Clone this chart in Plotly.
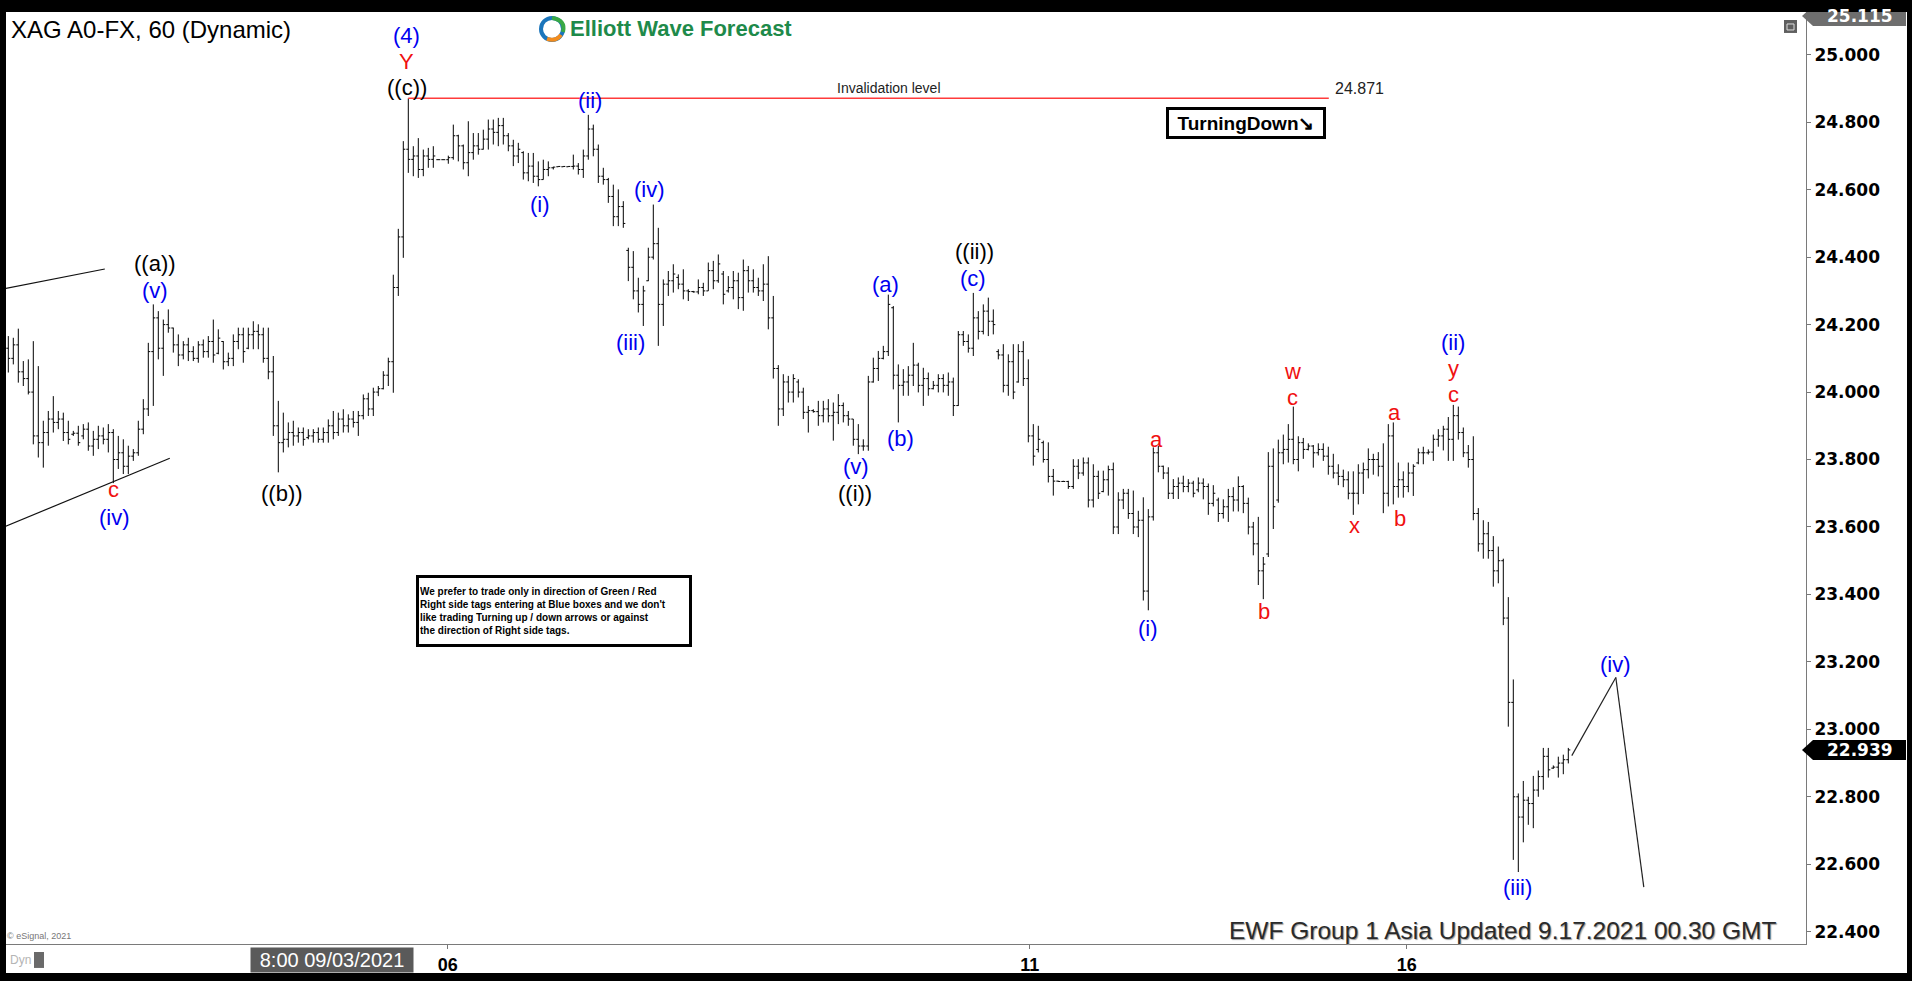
import plotly.graph_objects as go

# ---------------- data (hourly OHLC bars) ----------------
opens = [
    24.13, 24.10, 24.14, 24.06, 24.04, 24.00, 23.87, 23.85, 23.88, 23.92,
    23.91, 23.92, 23.88, 23.875, 23.878, 23.87, 23.89, 23.84, 23.86, 23.87,
    23.86, 23.88, 23.80, 23.82, 23.78, 23.81, 23.82, 23.89, 23.95, 24.12,
    24.22, 24.13, 24.20, 24.19, 24.14, 24.11, 24.14, 24.12, 24.10, 24.14,
    24.12, 24.15, 24.115, 24.15, 24.09, 24.10, 24.15, 24.17, 24.13, 24.17,
    24.18, 24.17, 24.10, 24.06, 23.90, 23.85, 23.86, 23.88, 23.87, 23.88,
    23.865, 23.87, 23.88, 23.86, 23.88, 23.90, 23.88, 23.92, 23.90, 23.92,
    23.91, 23.93, 23.98, 23.95, 24.00, 24.01, 24.05, 24.09, 24.31, 24.46,
    24.72, 24.69, 24.70, 24.66, 24.70, 24.69, 24.689, 24.689, 24.689, 24.695,
    24.76, 24.73, 24.68, 24.71, 24.73, 24.72, 24.75, 24.78, 24.77, 24.79,
    24.76, 24.73, 24.70, 24.71, 24.65, 24.67, 24.64, 24.63, 24.66, 24.665,
    24.668, 24.668, 24.668, 24.669, 24.67, 24.66, 24.70, 24.78, 24.72, 24.64,
    24.63, 24.58, 24.52, 24.55, 24.42, 24.37, 24.30, 24.26, 24.33, 24.40,
    24.44, 24.26, 24.32, 24.33, 24.34, 24.32, 24.30, 24.298, 24.297, 24.31,
    24.30, 24.36, 24.33, 24.35, 24.30, 24.31, 24.33, 24.28, 24.36, 24.33,
    24.31, 24.30, 24.32, 24.22, 24.07, 23.95, 24.03, 24.00, 24.03, 24.00,
    23.94, 23.945, 23.942, 23.93, 23.95, 23.93, 23.94, 23.96, 23.93, 23.92,
    23.86, 23.84, 23.84, 24.03, 24.07, 24.10, 24.12, 24.25, 24.05, 24.02,
    24.03, 24.05, 24.08, 24.02, 24.04, 24.01, 24.02, 24.04, 24.02, 24.03,
    23.96, 24.17, 24.15, 24.13, 24.22, 24.18, 24.24, 24.21, 24.12, 24.11,
    24.02, 24.09, 24.03, 24.12, 24.04, 23.87, 23.83, 23.85, 23.80, 23.75,
    23.736, 23.735, 23.735, 23.72, 23.78, 23.76, 23.79, 23.68, 23.75, 23.705,
    23.74, 23.77, 23.60, 23.68, 23.70, 23.64, 23.60, 23.62, 23.41, 23.63,
    23.82, 23.78, 23.76, 23.70, 23.72, 23.73, 23.72, 23.73, 23.71, 23.73,
    23.72, 23.67, 23.68, 23.64, 23.66, 23.69, 23.68, 23.72, 23.67, 23.60,
    23.55, 23.47, 23.52, 23.78, 23.68, 23.82, 23.83, 23.86, 23.80, 23.85,
    23.83, 23.84, 23.82, 23.83, 23.81, 23.78, 23.76, 23.75, 23.74, 23.70,
    23.70, 23.76, 23.77, 23.80, 23.80, 23.78, 23.70, 23.87, 23.72, 23.74,
    23.72, 23.76, 23.79, 23.82, 23.82, 23.822, 23.86, 23.87, 23.89, 23.86,
    23.93, 23.88, 23.82, 23.80, 23.64, 23.55, 23.58, 23.53, 23.47, 23.50,
    23.33, 23.08, 22.80, 22.74, 22.79, 22.78, 22.82, 22.86, 22.92, 22.885,
    22.888, 22.90, 22.91,
]
highs = [
    24.166, 24.161, 24.188, 24.092, 24.097, 24.151, 24.077, 23.915, 23.944, 23.988,
    23.944, 23.939, 23.915, 23.885, 23.900, 23.905, 23.910, 23.885, 23.900, 23.895,
    23.905, 23.890, 23.870, 23.860, 23.841, 23.831, 23.915, 23.979, 24.146, 24.260,
    24.240, 24.215, 24.245, 24.191, 24.171, 24.151, 24.161, 24.136, 24.151, 24.156,
    24.166, 24.215, 24.186, 24.151, 24.117, 24.171, 24.191, 24.191, 24.191, 24.210,
    24.201, 24.191, 24.191, 24.107, 23.974, 23.939, 23.910, 23.915, 23.895, 23.895,
    23.890, 23.890, 23.895, 23.895, 23.919, 23.944, 23.939, 23.949, 23.934, 23.944,
    23.944, 23.993, 23.998, 24.013, 24.018, 24.062, 24.102, 24.348, 24.484, 24.744,
    24.871, 24.729, 24.753, 24.719, 24.724, 24.729, 24.690, 24.690, 24.701, 24.793,
    24.763, 24.734, 24.803, 24.768, 24.768, 24.778, 24.808, 24.808, 24.813, 24.813,
    24.768, 24.748, 24.739, 24.714, 24.709, 24.709, 24.684, 24.689, 24.684, 24.668,
    24.670, 24.670, 24.670, 24.704, 24.679, 24.719, 24.822, 24.793, 24.734, 24.665,
    24.635, 24.615, 24.601, 24.566, 24.428, 24.418, 24.339, 24.315, 24.428, 24.556,
    24.487, 24.334, 24.359, 24.379, 24.349, 24.364, 24.305, 24.300, 24.334, 24.324,
    24.384, 24.389, 24.408, 24.359, 24.344, 24.359, 24.354, 24.393, 24.374, 24.364,
    24.339, 24.379, 24.403, 24.285, 24.080, 24.053, 24.048, 24.053, 24.038, 24.013,
    23.959, 23.949, 23.974, 23.974, 23.979, 23.969, 23.994, 23.969, 23.944, 23.920,
    23.905, 23.860, 24.048, 24.102, 24.122, 24.137, 24.289, 24.255, 24.082, 24.068,
    24.077, 24.146, 24.087, 24.072, 24.058, 24.033, 24.053, 24.053, 24.058, 24.043,
    24.181, 24.181, 24.171, 24.294, 24.240, 24.260, 24.280, 24.245, 24.127, 24.142,
    24.112, 24.142, 24.142, 24.151, 24.097, 23.905, 23.900, 23.856, 23.851, 23.772,
    23.737, 23.737, 23.737, 23.801, 23.801, 23.806, 23.806, 23.786, 23.767, 23.767,
    23.782, 23.791, 23.703, 23.713, 23.713, 23.708, 23.648, 23.688, 23.653, 23.836,
    23.841, 23.782, 23.777, 23.742, 23.747, 23.752, 23.742, 23.737, 23.747, 23.744,
    23.729, 23.724, 23.687, 23.682, 23.713, 23.718, 23.750, 23.724, 23.687, 23.615,
    23.630, 23.511, 23.822, 23.833, 23.859, 23.874, 23.905, 23.957, 23.869, 23.864,
    23.848, 23.843, 23.848, 23.848, 23.838, 23.817, 23.786, 23.770, 23.765, 23.765,
    23.786, 23.791, 23.833, 23.817, 23.822, 23.848, 23.905, 23.910, 23.791, 23.765,
    23.791, 23.786, 23.833, 23.838, 23.830, 23.874, 23.890, 23.900, 23.926, 23.962,
    23.957, 23.895, 23.843, 23.869, 23.656, 23.620, 23.615, 23.573, 23.542, 23.506,
    23.392, 23.148, 22.810, 22.847, 22.800, 22.862, 22.878, 22.945, 22.945, 22.893,
    22.919, 22.925, 22.945,
]
lows = [
    24.058, 24.082, 24.028, 24.018, 23.993, 23.845, 23.806, 23.776, 23.841, 23.880,
    23.890, 23.855, 23.845, 23.870, 23.841, 23.860, 23.826, 23.811, 23.831, 23.845,
    23.821, 23.730, 23.772, 23.757, 23.757, 23.796, 23.811, 23.875, 23.929, 23.959,
    24.097, 24.048, 24.176, 24.117, 24.077, 24.097, 24.092, 24.092, 24.087, 24.102,
    24.102, 24.087, 24.112, 24.067, 24.077, 24.077, 24.127, 24.087, 24.127, 24.127,
    24.127, 24.087, 24.038, 23.870, 23.762, 23.821, 23.836, 23.841, 23.850, 23.841,
    23.860, 23.850, 23.850, 23.850, 23.850, 23.860, 23.870, 23.880, 23.880, 23.895,
    23.870, 23.919, 23.929, 23.929, 23.988, 24.008, 24.018, 23.998, 24.285, 24.398,
    24.650, 24.640, 24.635, 24.640, 24.665, 24.665, 24.688, 24.688, 24.677, 24.689,
    24.684, 24.660, 24.640, 24.689, 24.704, 24.719, 24.719, 24.734, 24.729, 24.734,
    24.714, 24.670, 24.679, 24.630, 24.625, 24.620, 24.610, 24.630, 24.640, 24.660,
    24.668, 24.668, 24.668, 24.660, 24.645, 24.635, 24.689, 24.699, 24.620, 24.615,
    24.561, 24.492, 24.492, 24.487, 24.329, 24.275, 24.236, 24.196, 24.329, 24.393,
    24.137, 24.196, 24.285, 24.295, 24.305, 24.275, 24.270, 24.295, 24.290, 24.285,
    24.300, 24.305, 24.324, 24.260, 24.295, 24.275, 24.246, 24.241, 24.295, 24.295,
    24.285, 24.270, 24.186, 24.040, 23.900, 23.929, 23.969, 23.969, 23.984, 23.920,
    23.880, 23.939, 23.900, 23.910, 23.910, 23.856, 23.905, 23.910, 23.900, 23.841,
    23.816, 23.826, 23.826, 24.028, 24.033, 24.097, 24.107, 24.008, 23.910, 23.989,
    23.989, 24.018, 23.999, 23.959, 23.989, 24.008, 23.999, 23.999, 23.989, 23.929,
    23.959, 24.137, 24.117, 24.107, 24.156, 24.171, 24.166, 24.171, 24.097, 23.999,
    23.989, 23.979, 24.028, 24.018, 23.851, 23.782, 23.821, 23.791, 23.732, 23.693,
    23.734, 23.734, 23.713, 23.713, 23.742, 23.752, 23.658, 23.658, 23.683, 23.703,
    23.693, 23.579, 23.579, 23.653, 23.624, 23.579, 23.570, 23.382, 23.353, 23.619,
    23.762, 23.742, 23.683, 23.683, 23.683, 23.703, 23.703, 23.688, 23.703, 23.682,
    23.636, 23.661, 23.615, 23.625, 23.615, 23.646, 23.646, 23.641, 23.578, 23.516,
    23.428, 23.386, 23.511, 23.594, 23.672, 23.786, 23.791, 23.786, 23.765, 23.802,
    23.827, 23.776, 23.812, 23.796, 23.755, 23.744, 23.724, 23.718, 23.682, 23.636,
    23.667, 23.698, 23.744, 23.755, 23.750, 23.641, 23.661, 23.667, 23.687, 23.687,
    23.703, 23.692, 23.786, 23.786, 23.815, 23.796, 23.838, 23.827, 23.796, 23.796,
    23.859, 23.807, 23.776, 23.620, 23.527, 23.506, 23.506, 23.423, 23.433, 23.309,
    23.008, 22.613, 22.577, 22.665, 22.717, 22.707, 22.800, 22.821, 22.857, 22.883,
    22.857, 22.867, 22.899,
]
closes = [
    24.10, 24.14, 24.06, 24.04, 24.00, 23.87, 23.85, 23.88, 23.92, 23.91,
    23.92, 23.88, 23.86, 23.878, 23.85, 23.89, 23.84, 23.86, 23.87, 23.86,
    23.88, 23.80, 23.82, 23.78, 23.81, 23.82, 23.89, 23.95, 24.12, 24.22,
    24.13, 24.20, 24.19, 24.14, 24.11, 24.14, 24.12, 24.10, 24.14, 24.12,
    24.15, 24.11, 24.16, 24.09, 24.10, 24.15, 24.17, 24.12, 24.17, 24.18,
    24.17, 24.10, 24.06, 23.90, 23.85, 23.86, 23.88, 23.87, 23.88, 23.86,
    23.87, 23.88, 23.86, 23.88, 23.90, 23.88, 23.92, 23.90, 23.92, 23.91,
    23.93, 23.98, 23.95, 24.00, 24.01, 24.05, 24.09, 24.31, 24.46, 24.72,
    24.69, 24.70, 24.66, 24.70, 24.69, 24.70, 24.689, 24.689, 24.695, 24.76,
    24.73, 24.68, 24.71, 24.73, 24.72, 24.75, 24.78, 24.77, 24.79, 24.76,
    24.73, 24.70, 24.72, 24.65, 24.67, 24.64, 24.63, 24.66, 24.665, 24.667,
    24.669, 24.669, 24.669, 24.67, 24.66, 24.70, 24.78, 24.72, 24.64, 24.63,
    24.58, 24.52, 24.55, 24.50, 24.37, 24.30, 24.26, 24.30, 24.40, 24.44,
    24.26, 24.32, 24.33, 24.35, 24.32, 24.30, 24.298, 24.297, 24.31, 24.30,
    24.36, 24.33, 24.38, 24.29, 24.31, 24.33, 24.28, 24.36, 24.33, 24.31,
    24.30, 24.32, 24.22, 24.07, 23.95, 24.03, 24.00, 24.04, 24.00, 23.94,
    23.945, 23.942, 23.93, 23.95, 23.93, 23.94, 23.96, 23.93, 23.92, 23.86,
    23.84, 23.84, 24.03, 24.07, 24.10, 24.12, 24.26, 24.05, 24.02, 24.03,
    24.05, 24.08, 24.02, 24.04, 24.01, 24.02, 24.04, 24.02, 24.03, 23.96,
    24.17, 24.15, 24.13, 24.22, 24.18, 24.24, 24.21, 24.20, 24.11, 24.02,
    24.09, 24.00, 24.12, 24.04, 23.87, 23.81, 23.86, 23.80, 23.75, 23.736,
    23.735, 23.735, 23.72, 23.78, 23.76, 23.79, 23.68, 23.75, 23.70, 23.74,
    23.77, 23.60, 23.68, 23.70, 23.64, 23.60, 23.62, 23.41, 23.63, 23.82,
    23.78, 23.76, 23.70, 23.72, 23.73, 23.72, 23.73, 23.70, 23.73, 23.72,
    23.67, 23.70, 23.64, 23.66, 23.69, 23.68, 23.72, 23.67, 23.60, 23.55,
    23.47, 23.49, 23.78, 23.66, 23.82, 23.83, 23.86, 23.80, 23.85, 23.83,
    23.84, 23.82, 23.83, 23.81, 23.78, 23.76, 23.75, 23.74, 23.70, 23.70,
    23.76, 23.77, 23.80, 23.80, 23.78, 23.70, 23.87, 23.72, 23.74, 23.72,
    23.76, 23.78, 23.82, 23.82, 23.822, 23.86, 23.87, 23.89, 23.86, 23.93,
    23.88, 23.82, 23.80, 23.64, 23.55, 23.58, 23.53, 23.47, 23.50, 23.33,
    23.08, 22.80, 22.74, 22.79, 22.78, 22.82, 22.86, 22.92, 22.88, 22.888,
    22.90, 22.91, 22.939,
]
bars = list(range(len(closes)))

day_ticks = [87.9, 204.3, 279.7]
day_labels = ["06", "11", "16"]
price_ticks = [22.4, 22.6, 22.8, 23.0, 23.2, 23.4, 23.6, 23.8, 24.0, 24.2, 24.4, 24.6, 24.8, 25.0]
price_labels = ["%.3f" % v for v in price_ticks]
start_label = "8:00 09/03/2021"
invalidation_level = 24.871
invalidation_start_bar = 80
invalidation_end_bar = 264.1
top_price = 25.115
last_price = closes[-1]

# Elliott wave labels: (text, bar position, price position, colour key)
wave_labels = [
    ("(4)", 79.7, 25.056, "blue"), ("Y", 79.7, 24.979, "red"), ("((c))", 79.7, 24.904, "black"),
    ("(ii)", 116.3, 24.864, "blue"), ("(i)", 106.4, 24.556, "blue"), ("(iv)", 128.3, 24.600, "blue"),
    ("(iii)", 124.4, 24.148, "blue"),
    ("((a))", 29.3, 24.381, "black"), ("(v)", 29.3, 24.300, "blue"),
    ("c", 21.0, 23.710, "red"), ("(iv)", 21.3, 23.627, "blue"), ("((b))", 54.7, 23.700, "black"),
    ("(a)", 175.4, 24.320, "blue"), ("((ii))", 193.2, 24.417, "black"), ("(c)", 192.9, 24.338, "blue"),
    ("(b)", 178.5, 23.861, "blue"), ("(v)", 169.5, 23.780, "blue"), ("((i))", 169.3, 23.698, "black"),
    ("a", 229.7, 23.858, "red"), ("(i)", 228.0, 23.300, "blue"),
    ("w", 256.8, 24.062, "red"), ("c", 256.8, 23.985, "red"), ("b", 251.2, 23.349, "red"),
    ("x", 269.3, 23.604, "red"), ("a", 277.3, 23.939, "red"), ("b", 278.3, 23.626, "red"),
    ("(ii)", 289.0, 24.148, "blue"), ("y", 289.0, 24.069, "red"), ("c", 289.0, 23.994, "red"),
    ("(iii)", 301.9, 22.532, "blue"), ("(iv)", 321.5, 23.193, "blue"),
]
# projected path for wave (iv) and then lower
projection_bars = [312.7, 321.5, 327.1]
projection_prices = [22.922, 23.154, 22.532]
# channel lines at the left
channel_upper = [(-1.66, 24.304), (19.3, 24.365)]
channel_lower = [(-0.86, 23.600), (32.3, 23.804)]

# ---------------- layout geometry ----------------
W, H = 1912, 981
ML, MR, MT, MB = 6, 106, 12, 35
PW, PH = W - ML - MR, H - MT - MB
X_RANGE = [-0.46, 359.54]
Y_RANGE = [22.3636, 25.1269]
PX_PER_PRICE = PH / (Y_RANGE[1] - Y_RANGE[0])


def pxx(x):
    return (x - ML) / PW


def pxy(y):
    return (H - MB - y) / PH


COL = {"blue": "#0000f0", "red": "#f01010", "black": "#000000"}
ARIAL = "Liberation Sans, Arial, sans-serif"

fig = go.Figure(go.Ohlc(
    x=bars, open=opens, high=highs, low=lows, close=closes,
    increasing=dict(line=dict(color="black", width=1)),
    decreasing=dict(line=dict(color="black", width=1)),
    tickwidth=0.4, hoverinfo="skip", showlegend=False,
))

shapes = []
# white chart panel (plot + axis areas) inside the black frame
shapes.append(dict(type="rect", xref="paper", yref="paper", x0=pxx(6), x1=pxx(1907),
                   y0=pxy(975), y1=pxy(12), fillcolor="white", line=dict(width=0), layer="below"))
# channel lines
for ln in (channel_upper, channel_lower):
    shapes.append(dict(type="line", xref="x", yref="y", x0=ln[0][0], y0=ln[0][1],
                       x1=ln[1][0], y1=ln[1][1], line=dict(color="#111", width=1.2)))
# invalidation level
shapes.append(dict(type="line", xref="x", yref="y", x0=invalidation_start_bar, x1=invalidation_end_bar,
                   y0=invalidation_level, y1=invalidation_level, line=dict(color="#ff3b3b", width=1.5)))
# projection path
for i in range(len(projection_bars) - 1):
    shapes.append(dict(type="line", xref="x", yref="y", x0=projection_bars[i], y0=projection_prices[i],
                       x1=projection_bars[i + 1], y1=projection_prices[i + 1],
                       line=dict(color="#222", width=1.2)))

# price tags on the right axis
half = 10 / PX_PER_PRICE
for price, colr in ((last_price, "#000000"), (top_price, "#6e6e6e")):
    xa, xb, xc = pxx(1802), pxx(1813), pxx(1906)
    path = (f"M {xa},{price} L {xb},{price + half} L {xc},{price + half} "
            f"L {xc},{price - half} L {xb},{price - half} Z")
    shapes.append(dict(type="path", xref="paper", yref="y", path=path,
                       fillcolor=colr, line=dict(width=0)))

# small window icon top-right
shapes.append(dict(type="rect", xref="paper", yref="paper", x0=pxx(1784), x1=pxx(1797),
                   y0=pxy(33), y1=pxy(20), fillcolor="#5f5f5f", line=dict(width=0)))
shapes.append(dict(type="rect", xref="paper", yref="paper", x0=pxx(1787), x1=pxx(1794),
                   y0=pxy(30), y1=pxy(24), fillcolor="rgba(0,0,0,0)", line=dict(color="#dddddd", width=1)))
# lock icon bottom-left
shapes.append(dict(type="rect", xref="paper", yref="paper", x0=pxx(34), x1=pxx(44),
                   y0=pxy(970), y1=pxy(954), fillcolor="#6a6a6a", line=dict(width=0)))
# logo ring
shapes.append(dict(type="circle", xref="paper", yref="paper", x0=pxx(541), x1=pxx(563),
                   y0=pxy(40), y1=pxy(18), fillcolor="white", line=dict(color="#1b75bb", width=4)))
shapes.append(dict(type="path", xref="paper", yref="paper",
                   path=f"M {pxx(552)},{pxy(18)} Q {pxx(566)},{pxy(20)} {pxx(563)},{pxy(32)}",
                   line=dict(color="#39a845", width=4)))
shapes.append(dict(type="path", xref="paper", yref="paper",
                   path=f"M {pxx(561)},{pxy(35)} Q {pxx(556)},{pxy(42)} {pxx(547)},{pxy(39)}",
                   line=dict(color="#f28c1e", width=4)))

ann = []
for text, bx, pr, c in wave_labels:
    ann.append(dict(x=bx, y=pr, xref="x", yref="y", text=text, showarrow=False,
                    xanchor="center", yanchor="middle", borderpad=0,
                    font=dict(family=ARIAL, size=22, color=COL[c])))

ann.append(dict(x=pxx(9), y=pxy(30), xref="paper", yref="paper", text="XAG A0-FX, 60 (Dynamic)",
                showarrow=False, xanchor="left", yanchor="middle",
                font=dict(family=ARIAL, size=24, color="black")))
ann.append(dict(x=pxx(568), y=pxy(29), xref="paper", yref="paper", text="<b>Elliott Wave Forecast</b>",
                showarrow=False, xanchor="left", yanchor="middle",
                font=dict(family=ARIAL, size=22, color="#1e8a4a")))
ann.append(dict(x=176.1, y=invalidation_level,
                xref="x", yref="y", text="Invalidation level", showarrow=False,
                xanchor="center", yanchor="bottom", yshift=0,
                font=dict(family=ARIAL, size=14, color="#222")))
ann.append(dict(x=invalidation_end_bar + 0.8, y=invalidation_level, xref="x", yref="y",
                text="%.3f" % invalidation_level, showarrow=False, xanchor="left", yanchor="bottom",
                yshift=-1, font=dict(family=ARIAL, size=16, color="#222")))
ann.append(dict(x=pxx(1246), y=pxy(123.5), xref="paper", yref="paper",
                text="<b>TurningDown\u2198</b>", showarrow=False, xanchor="center", yanchor="middle",
                width=154, height=26, bgcolor="white", bordercolor="black", borderwidth=3, borderpad=0,
                font=dict(family="Liberation Sans Narrow, Arial Narrow, Liberation Sans", size=19,
                          color="black")))
ann.append(dict(x=pxx(554), y=pxy(612), xref="paper", yref="paper",
                text=("<b>We prefer to trade only in direction of Green / Red<br>"
                      "Right side tags entering at Blue boxes and we don't<br>"
                      "like trading Turning up / down arrows or against<br>"
                      "the direction of Right side tags.</b>"),
                showarrow=False, xanchor="center", yanchor="middle", align="left",
                width=268, height=64, bgcolor="white", bordercolor="black", borderwidth=3, borderpad=1,
                font=dict(family=ARIAL, size=10, color="black")))
ann.append(dict(x=pxx(1779), y=pxy(932), xref="paper", yref="paper",
                text="EWF Group 1 Asia Updated 9.17.2021 00.30 GMT", showarrow=False,
                xanchor="right", yanchor="middle",
                font=dict(family=ARIAL, size=24.5, color="#2a2a2a", shadow="1px 1px 1px #9a9a9a")))
ann.append(dict(x=pxx(332), y=pxy(962), xref="paper", yref="paper", text=start_label,
                showarrow=False, xanchor="center", yanchor="middle", bgcolor="#5a5a5a",
                width=160, height=22, font=dict(family=ARIAL, size=20, color="white")))
ann.append(dict(x=pxx(8), y=pxy(962), xref="paper", yref="paper", text="Dyn", showarrow=False,
                xanchor="left", yanchor="middle", font=dict(family=ARIAL, size=12, color="#b5b5b5")))
ann.append(dict(x=pxx(5), y=pxy(938), xref="paper", yref="paper", text="\u00a9 eSignal, 2021",
                showarrow=False, xanchor="left", yanchor="middle",
                font=dict(family=ARIAL, size=9, color="#777")))
for price, txt in ((last_price, "%.3f" % last_price), (top_price, "%.3f" % top_price)):
    ann.append(dict(x=pxx(1860), y=price, xref="paper", yref="y", text="<b>%s</b>" % txt,
                    showarrow=False, xanchor="center", yanchor="middle",
                    font=dict(family="DejaVu Sans, Verdana, sans-serif", size=17, color="white")))

fig.update_layout(
    width=W, height=H, margin=dict(l=ML, r=MR, t=MT, b=MB, pad=0),
    paper_bgcolor="black", plot_bgcolor="white",
    shapes=shapes, annotations=ann, showlegend=False,
    xaxis=dict(range=X_RANGE, tickvals=day_ticks, ticktext=day_labels, ticks="outside", ticklen=4,
               tickcolor="#777", showgrid=False, zeroline=False, showline=True, linecolor="#7a7a7a",
               linewidth=1, rangeslider=dict(visible=False), fixedrange=True,
               tickfont=dict(family=ARIAL, size=18, color="black", weight="bold")),
    yaxis=dict(range=Y_RANGE, side="right", tickvals=price_ticks, ticktext=price_labels,
               ticks="outside", ticklen=4, tickcolor="#777", showgrid=False, zeroline=False,
               showline=True, linecolor="#7a7a7a", linewidth=1, fixedrange=True,
               tickfont=dict(family="DejaVu Sans, Verdana, sans-serif", size=17, color="black",
                             weight="bold")),
)

fig.write_html("out.html", config={"displayModeBar": False},
               post_script="document.body.style.margin='0';document.body.style.overflow='hidden';")
